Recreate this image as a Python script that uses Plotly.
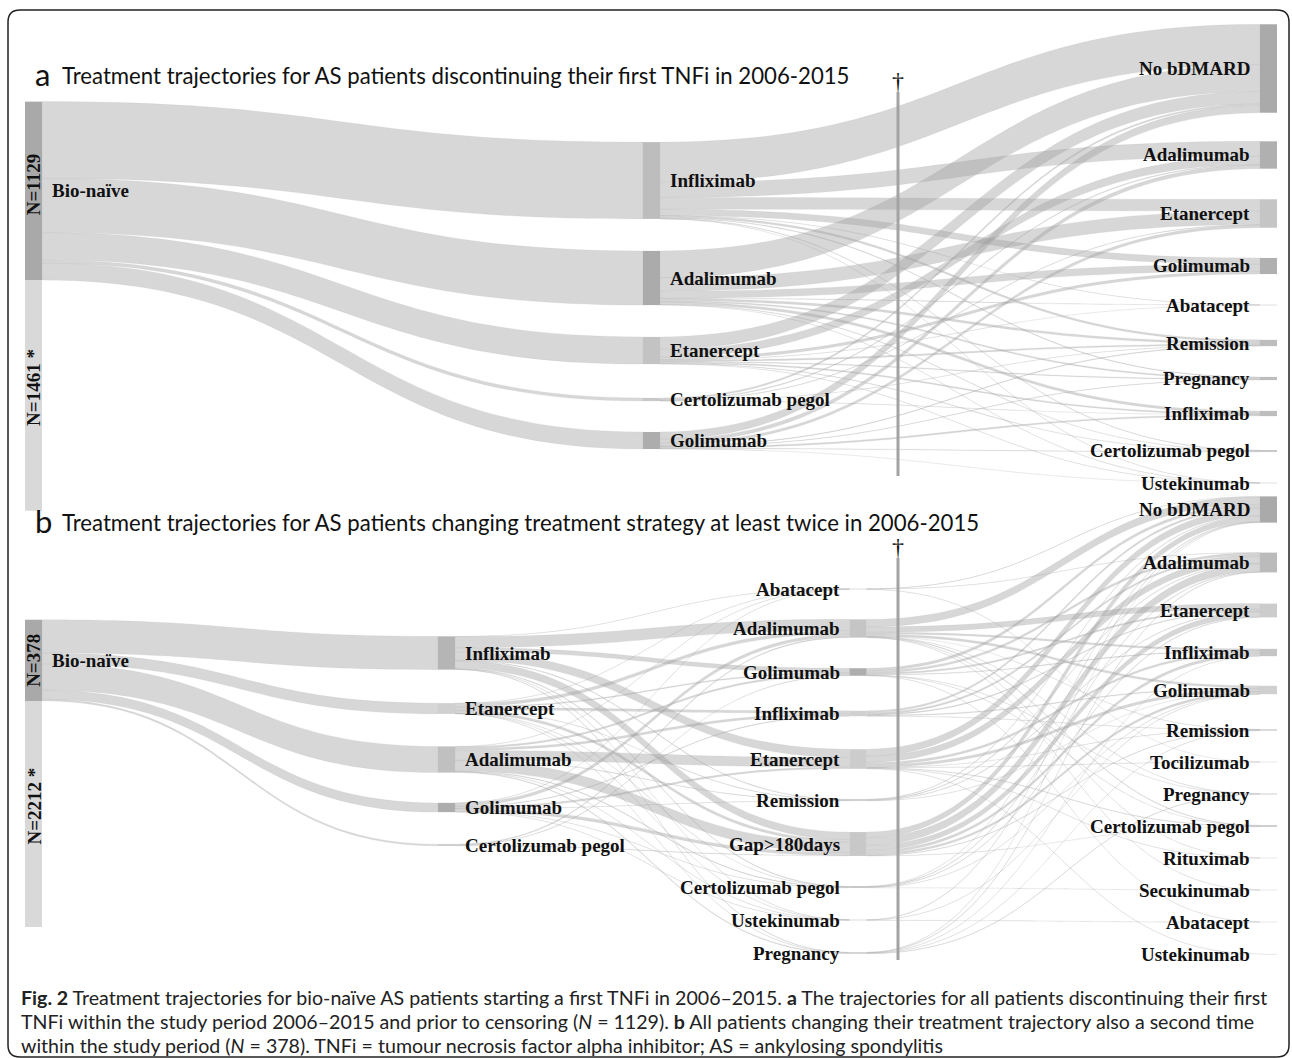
import plotly.graph_objects as go

FIG_W, FIG_H = 1292, 1058

# ======================= DATA =======================
# ---- Panel a: patients discontinuing their first TNFi ----
a_start = ["Bio-naïve"]
a_first = ["Infliximab", "Adalimumab", "Etanercept", "Certolizumab pegol", "Golimumab"]
a_next = ["No bDMARD", "Adalimumab", "Etanercept", "Golimumab", "Abatacept",
          "Remission", "Pregnancy", "Infliximab", "Certolizumab pegol", "Ustekinumab"]
a_start_to_first = [[486, 343, 172, 20, 108]]
a_first_to_next = [
    # NoB  Adal Etan Goli Abat Remi Preg Infl Cert Uste
    [255, 95, 75, 40, 1, 12, 4, 0, 3, 1],     # Infliximab
    [170, 0, 85, 45, 2, 14, 8, 15, 3, 1],     # Adalimumab
    [78, 50, 0, 17, 1, 9, 5, 8, 3, 1],        # Etanercept
    [10, 5, 3, 0, 0, 1, 0, 1, 0, 0],          # Certolizumab pegol
    [47, 23, 17, 0, 0, 4, 3, 9, 4, 1],        # Golimumab
]
a_n_included = 1129
a_n_censored = 1461

# ---- Panel b: patients changing treatment strategy at least twice ----
b_start = ["Bio-naïve"]
b_first = ["Infliximab", "Etanercept", "Adalimumab", "Golimumab", "Certolizumab pegol"]
b_second = ["Abatacept", "Adalimumab", "Golimumab", "Infliximab", "Etanercept",
            "Remission", "Gap>180days", "Certolizumab pegol", "Ustekinumab", "Pregnancy"]
b_third = ["No bDMARD", "Adalimumab", "Etanercept", "Infliximab", "Golimumab", "Remission",
           "Tocilizumab", "Pregnancy", "Certolizumab pegol", "Rituximab", "Secukinumab",
           "Abatacept", "Ustekinumab"]
b_start_to_first = [[155, 50, 122, 43, 8]]
b_first_to_second = [
    # Abat Adal Goli Infl Etan Remi Gap Cert Uste Preg
    [1, 52, 20, 0, 38, 3, 35, 3, 1, 2],       # Infliximab
    [1, 15, 5, 12, 0, 2, 12, 1, 1, 1],        # Etanercept
    [1, 0, 8, 10, 45, 2, 48, 3, 1, 4],        # Adalimumab
    [1, 14, 0, 3, 8, 1, 14, 1, 1, 0],         # Golimumab
    [0, 4, 2, 0, 0, 0, 2, 0, 0, 0],           # Certolizumab pegol
]
b_second_to_third = [
    # NoB Adal Etan Infl Goli Remi Toci Preg Cert Ritu Secu Abat Uste
    [2, 1, 0, 0, 0, 0, 1, 0, 0, 0, 0, 0, 0],      # Abatacept
    [35, 0, 25, 8, 10, 1, 0, 1, 3, 1, 1, 0, 0],   # Adalimumab
    [12, 10, 7, 3, 0, 0, 0, 1, 1, 0, 0, 1, 0],    # Golimumab
    [8, 8, 4, 0, 4, 1, 0, 0, 0, 0, 0, 0, 0],      # Infliximab
    [32, 30, 0, 10, 12, 1, 1, 0, 3, 1, 0, 0, 1],  # Etanercept
    [2, 3, 2, 0, 1, 0, 0, 0, 0, 0, 0, 0, 0],      # Remission
    [26, 36, 24, 12, 10, 2, 0, 0, 1, 0, 0, 0, 0], # Gap>180days
    [2, 2, 2, 0, 1, 0, 0, 0, 0, 0, 1, 0, 0],      # Certolizumab pegol
    [2, 0, 0, 0, 1, 0, 0, 0, 0, 0, 0, 1, 0],      # Ustekinumab
    [1, 2, 0, 1, 0, 1, 0, 2, 0, 0, 0, 0, 0],      # Pregnancy
]
b_n_included = 378
b_n_censored = 2212

a_title = "Treatment trajectories for AS patients discontinuing their first TNFi in 2006-2015"
b_title = "Treatment trajectories for AS patients changing treatment strategy at least twice in 2006-2015"
caption_lines = [
    "<b>Fig. 2</b> Treatment trajectories for bio-naïve AS patients starting a first TNFi in 2006–2015. "
    "<b>a</b> The trajectories for all patients discontinuing their first",
    "TNFi within the study period 2006–2015 and prior to censoring (<i>N</i> = 1129). "
    "<b>b</b> All patients changing their treatment trajectory also a second time",
    "within the study period (<i>N</i> = 378). TNFi = tumour necrosis factor alpha inhibitor; "
    "AS = ankylosing spondylitis",
]

# ======================= LAYOUT / STYLE =======================
THICK = 17
NODE_PAD = 2
LINK_COLOR = "rgba(160,160,160,0.42)"
LINK_EDGE = dict(width=0.45, color="rgba(170,170,170,0.30)")
HIDDEN = "rgba(0,0,0,0)"
HIDDEN_Y = -4.0       # scale helper nodes are placed far outside the canvas
CENSOR_COLOR = "#d9d9d9"
LABEL_FONT = dict(family="Liberation Serif", size=19, color="#111111")

A_DOM = dict(x0=25, x1=1277, top=27, bottom=487)
A_KY = 0.158          # px per patient in panel a
A_COL_X = [33.5, 651.5, 1268.5]
A_COL_Y = [None,
           [180.5, 278, 350.5, 399.5, 440.5],
           [68.5, 155, 213.5, 266, 305, 343, 378.5, 413.5, 451, 483]]
A_SPLIT_Y = 280
A_COLORS = [["#a9a9a9"],
            ["#bdbdbd", "#ababab", "#c3c3c3", "#c8c8c8", "#adadad"],
            ["#aaaaaa", "#b0b0b0", "#c5c5c5", "#b0b0b0", "#d0d0d0",
             "#bdbdbd", "#bdbdbd", "#bdbdbd", "#c8c8c8", "#d0d0d0"]]
A_SIDES = ["r", "r", "l"]

B_DOM = dict(x0=25, x1=1277, top=490, bottom=962)
B_KY = 0.215          # px per patient in panel b
B_COL_X = [33.5, 446.5, 858, 1268.5]
B_COL_Y = [None,
           [653, 708.5, 759.5, 807.5, 845],
           [589, 628.5, 672, 713.5, 759, 800, 844, 887, 920, 953],
           [509.5, 562.5, 610.5, 652.5, 690, 730, 762, 794, 826, 858, 890, 922, 954]]
B_SPLIT_Y = 701
B_CENSOR_BAR_PX = 226   # bar shown truncated (not to scale) in the original
B_COLORS = [["#a9a9a9"],
            ["#b5b5b5", "#d0d0d0", "#c0c0c0", "#adadad", "#c8c8c8"],
            ["#d8d8d8", "#c5c5c5", "#adadad", "#d0d0d0", "#cccccc",
             "#c8c8c8", "#c8c8c8", "#c0c0c0", "#d8d8d8", "#c8c8c8"],
            ["#aaaaaa", "#bbbbbb", "#cccccc", "#c5c5c5", "#d0d0d0", "#c8c8c8",
             "#d0d0d0", "#c8c8c8", "#c8c8c8", "#d0d0d0", "#d0d0d0", "#d0d0d0", "#d0d0d0"]]
B_SIDES = ["r", "r", "l", "l"]


def px_x(v):
    return v / FIG_W


def px_y(v):
    return 1 - v / FIG_H


annotations = []
shapes = []


def build_panel(columns, flows, dom, ky, col_x, col_y, split_y, colors, sides):
    n_cols = len(columns)
    vals = []
    for c in range(n_cols):
        outs = [sum(r) for r in flows[c]] if c < n_cols - 1 else [0] * len(columns[c])
        ins = [sum(flows[c - 1][i][j] for i in range(len(columns[c - 1])))
               for j in range(len(columns[c]))] if c > 0 else [0] * len(columns[c])
        vals.append([max(a, b) for a, b in zip(ins, outs)])
    h = dom["bottom"] - dom["top"]
    w = dom["x1"] - dom["x0"]
    # An invisible, off-canvas "scale" flow (first column -> last column) fixes
    # the pixels-per-patient scale of the Sankey layout to the target value.
    cand = []
    for c in (0, n_cols - 1):
        n_c = len(columns[c]) + 1
        cand.append((h - (n_c - 1) * NODE_PAD) / ky - sum(vals[c]))
    ballast = min(cand)

    col_y = list(col_y)
    col_y[0] = [split_y - ky * vals[0][0] / 2]

    names, xs, ys, cols, offs = [], [], [], [], []
    for c in range(n_cols):
        offs.append(len(names))
        for k, nm in enumerate(columns[c]):
            names.append(nm)
            xs.append((col_x[c] - dom["x0"]) / w)
            ys.append((col_y[c][k] - dom["top"]) / h)
            cols.append(colors[c][k])
    src, tgt, val, lcol = [], [], [], []
    for c in range(n_cols - 1):
        for i, row in enumerate(flows[c]):
            for j, v in enumerate(row):
                if v > 0:
                    src.append(offs[c] + i)
                    tgt.append(offs[c + 1] + j)
                    val.append(v)
                    lcol.append(LINK_COLOR)
    hid_s = len(names)
    names += ["", ""]
    xs += [(col_x[0] - dom["x0"]) / w, (col_x[-1] - dom["x0"]) / w]
    ys += [HIDDEN_Y, HIDDEN_Y]
    cols += [HIDDEN, HIDDEN]
    src.append(hid_s)
    tgt.append(hid_s + 1)
    val.append(ballast)
    lcol.append(HIDDEN)

    trace = go.Sankey(
        arrangement="fixed",
        hoverinfo="none",
        domain=dict(x=[px_x(dom["x0"]), px_x(dom["x1"])],
                    y=[px_y(dom["bottom"]), px_y(dom["top"])]),
        node=dict(label=[""] * len(names), customdata=names, x=xs, y=ys,
                  pad=NODE_PAD, thickness=THICK, color=cols, line=dict(width=0)),
        link=dict(source=src, target=tgt, value=val, color=lcol,
                  line=dict(width=LINK_EDGE["width"], color=LINK_EDGE["color"])),
        textfont=dict(size=1),
    )
    for c in range(n_cols):
        for k, nm in enumerate(columns[c]):
            cx = col_x[c]
            if sides[c] == "r":
                x, anchor = cx + THICK / 2 + 8, "left"
            else:
                x, anchor = cx - THICK / 2 - 8, "right"
            annotations.append(dict(
                x=px_x(x), y=px_y(col_y[c][k]), xref="paper", yref="paper",
                text=f"<b>{nm}</b>", showarrow=False, xanchor=anchor, yanchor="middle",
                font=LABEL_FONT))
    return trace, col_y[0][0]


def n_labels(n_inc, n_cen, cx, center_inc, bar_top, bar_h):
    annotations.append(dict(x=px_x(cx), y=px_y(center_inc), xref="paper", yref="paper",
                            text=f"<b>N={n_inc}</b>", showarrow=False, textangle=-90,
                            xanchor="center", yanchor="middle", font=LABEL_FONT))
    annotations.append(dict(x=px_x(cx), y=px_y(bar_top + bar_h / 2 - 8), xref="paper", yref="paper",
                            text=f"<b>N={n_cen} *</b>", showarrow=False, textangle=-90,
                            xanchor="center", yanchor="middle", font=LABEL_FONT))


def censor_bar(cx, top, hgt):
    shapes.append(dict(type="rect", xref="paper", yref="paper",
                       x0=px_x(cx - THICK / 2), x1=px_x(cx + THICK / 2),
                       y0=px_y(top + hgt), y1=px_y(top),
                       fillcolor=CENSOR_COLOR, line=dict(width=0), layer="below"))


# ---- panel a ----
tr_a, ca = build_panel([a_start, a_first, a_next], [a_start_to_first, a_first_to_next],
                       A_DOM, A_KY, A_COL_X, A_COL_Y, A_SPLIT_Y, A_COLORS, A_SIDES)
a_bar_h = A_KY * a_n_censored
censor_bar(A_COL_X[0], A_SPLIT_Y, a_bar_h)
n_labels(a_n_included, a_n_censored, A_COL_X[0], ca - 6, A_SPLIT_Y, a_bar_h)

# ---- panel b ----
tr_b, cb = build_panel([b_start, b_first, b_second, b_third],
                       [b_start_to_first, b_first_to_second, b_second_to_third],
                       B_DOM, B_KY, B_COL_X, B_COL_Y, B_SPLIT_Y, B_COLORS, B_SIDES)
censor_bar(B_COL_X[0], B_SPLIT_Y, B_CENSOR_BAR_PX)
n_labels(b_n_included, b_n_censored, B_COL_X[0], cb, B_SPLIT_Y, B_CENSOR_BAR_PX)

# ---- censoring dividers with dagger ----
for top, bottom, dag_y in [(92, 476, 81), (558, 960, 547)]:
    shapes.append(dict(type="line", xref="paper", yref="paper",
                       x0=px_x(898), x1=px_x(898), y0=px_y(bottom), y1=px_y(top),
                       line=dict(color="#a3a3a3", width=3)))
    annotations.append(dict(x=px_x(898), y=px_y(dag_y), xref="paper", yref="paper",
                            text="†", showarrow=False, xanchor="center", yanchor="middle",
                            font=dict(family="Liberation Serif", size=24, color="#111111")))

# ---- panel titles ----
for letter, title, yy in [("a", a_title, 74), ("b", b_title, 521)]:
    annotations.append(dict(x=px_x(33), y=px_y(yy), xref="paper", yref="paper", text=letter,
                            showarrow=False, xanchor="left", yanchor="middle",
                            font=dict(family="Lato", size=31, color="#111111")))
    annotations.append(dict(x=px_x(60), y=px_y(yy + 1), xref="paper", yref="paper", text=title,
                            showarrow=False, xanchor="left", yanchor="middle",
                            font=dict(family="Lato", size=22.2, color="#111111")))

# ---- caption ----
for line, yy in zip(caption_lines, [997, 1021, 1045]):
    annotations.append(dict(x=px_x(19), y=px_y(yy), xref="paper", yref="paper", text=line,
                            showarrow=False, xanchor="left", yanchor="middle",
                            font=dict(family="Lato", size=19.6, color="#222222")))

# ---- rounded frame ----
x0, y0, x1, y1, r = 8, 10, 1289, 1057, 12
pts = (f"M {px_x(x0 + r)} {px_y(y0)} L {px_x(x1 - r)} {px_y(y0)} "
       f"Q {px_x(x1)} {px_y(y0)} {px_x(x1)} {px_y(y0 + r)} L {px_x(x1)} {px_y(y1 - r)} "
       f"Q {px_x(x1)} {px_y(y1)} {px_x(x1 - r)} {px_y(y1)} L {px_x(x0 + r)} {px_y(y1)} "
       f"Q {px_x(x0)} {px_y(y1)} {px_x(x0)} {px_y(y1 - r)} L {px_x(x0)} {px_y(y0 + r)} "
       f"Q {px_x(x0)} {px_y(y0)} {px_x(x0 + r)} {px_y(y0)} Z")
shapes.append(dict(type="path", path=pts, xref="paper", yref="paper",
                   line=dict(color="#222222", width=1.5), fillcolor="rgba(0,0,0,0)"))

fig = go.Figure(data=[tr_a, tr_b])
fig.update_layout(width=FIG_W, height=FIG_H, margin=dict(l=0, r=0, t=0, b=0),
                  paper_bgcolor="white", plot_bgcolor="white",
                  annotations=annotations, shapes=shapes, showlegend=False,
                  font=dict(family="Liberation Serif"))
fig.write_html("out.html")
